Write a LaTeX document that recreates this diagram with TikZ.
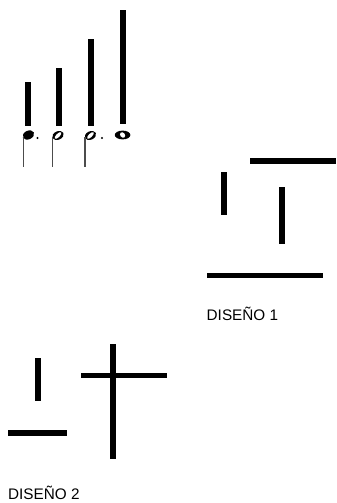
\documentclass[tikz,border=0pt]{standalone}
\usepackage{fontspec}
\setmainfont{Liberation Sans}
\begin{document}
\begin{tikzpicture}[x=1pt,y=-1pt,
  barfill/.style={fill=black},
  stemline/.style={draw=black!70,line width=1.4pt},
  caption/.style={anchor=base west,inner sep=0pt,font=\fontsize{15.3}{18}\selectfont}]
\useasboundingbox[fill=white] (0,0) rectangle (337,503);
% ---- music bars ----
\fill[barfill] (25,82) rectangle (31,126);
\fill[barfill] (56,68) rectangle (62,126);
\fill[barfill] (88,39) rectangle (94,126);
\fill[barfill] (120,10) rectangle (126,124);
% ---- note 1: dotted quarter (stem down) ----
\begin{scope}[shift={(28.4,135)},rotate=25]
  \fill (0,0) ellipse [x radius=6pt,y radius=4.3pt];
\end{scope}
\draw[stemline] (23.2,136) -- (23.2,167);
\fill (37.5,138) circle (1.1pt);
% ---- note 2: half ----
\begin{scope}[shift={(58,135.5)},rotate=25]
  \fill (0,0) ellipse [x radius=6pt,y radius=4.2pt];
  \fill[white,rotate=20] (0,0) ellipse [x radius=4.4pt,y radius=1.8pt];
\end{scope}
\draw[stemline] (52.6,137) -- (52.6,167);
% ---- note 3: dotted half ----
\begin{scope}[shift={(90.4,135.5)},rotate=25]
  \fill (0,0) ellipse [x radius=6pt,y radius=4.2pt];
  \fill[white,rotate=20] (0,0) ellipse [x radius=4.4pt,y radius=1.8pt];
\end{scope}
\draw[stemline] (85,137) -- (85,167);
\fill (102,138) circle (1.1pt);
% ---- note 4: whole ----
\begin{scope}[shift={(122.6,135)}]
  \fill (0,0) ellipse [x radius=7.8pt,y radius=4.4pt];
  \fill[white,rotate=-50] (0,0) ellipse [x radius=3pt,y radius=2.3pt];
\end{scope}
% ---- DISEÑO 1 ----
\fill[barfill] (250,158) rectangle (336,164);
\fill[barfill] (221,172) rectangle (227,215);
\fill[barfill] (279,187) rectangle (285,244);
\fill[barfill] (207,273) rectangle (323,278);
\node[caption] (d1) at (206.5,320) {DISEÑO 1};
% ---- DISEÑO 2 ----
\fill[barfill] (35,358) rectangle (41,401);
\fill[barfill] (8,430) rectangle (67,436);
\fill[barfill] (81,373) rectangle (167,378);
\fill[barfill] (109.5,344) rectangle (115.5,459);
\node[caption] (d2) at (8,499) {DISEÑO 2};
\end{tikzpicture}
\end{document}
